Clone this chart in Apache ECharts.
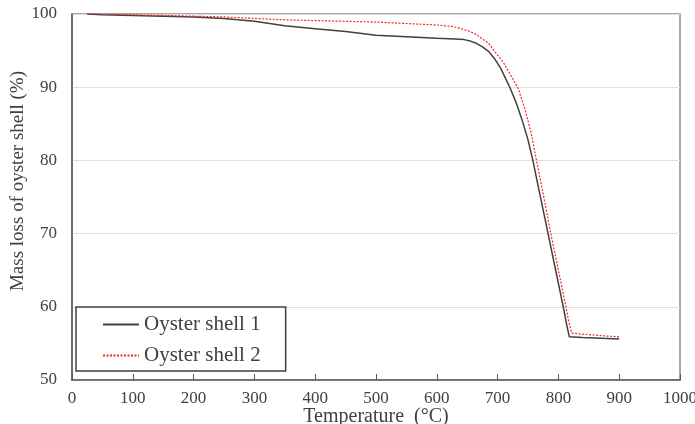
<!DOCTYPE html>
<html>
<head>
<meta charset="utf-8">
<script src="https://cdn.jsdelivr.net/npm/echarts@6/dist/echarts.min.js"></script>
<style>
  body { margin: 0; background: #fff; }
  #container { width: 695px; height: 424px; }
</style>
</head>
<body>
<div id="container"></div>
<script>
// Oyster shell 1 (black solid)
var temp1 = [25, 50, 100, 150, 200, 250, 300, 350, 400, 450, 500, 550, 600, 630, 645, 655, 665, 675, 685, 695, 705, 720, 730, 740, 750, 758, 770, 783, 795, 808, 814, 818, 840, 870, 900];
var mass1 = [100, 99.9, 99.8, 99.7, 99.6, 99.4, 99.0, 98.4, 98.0, 97.6, 97.1, 96.9, 96.7, 96.6, 96.5, 96.3, 96.0, 95.5, 94.9, 93.9, 92.6, 90.0, 88.0, 85.6, 82.8, 80.0, 75.2, 70.0, 65.2, 60.0, 57.4, 55.9, 55.8, 55.7, 55.6];
// Oyster shell 2 (red dotted)
var temp2 = [25, 50, 100, 150, 200, 250, 300, 350, 400, 450, 500, 550, 600, 625, 640, 655, 665, 675, 685, 698, 710, 720, 734, 745, 755, 764, 775, 787, 800, 812, 817, 822, 850, 880, 900];
var mass2 = [100, 100, 99.9, 99.8, 99.7, 99.6, 99.4, 99.2, 99.1, 99.0, 98.9, 98.7, 98.5, 98.3, 98.0, 97.6, 97.2, 96.6, 96.0, 94.6, 93.3, 91.9, 89.8, 87.0, 83.8, 80.0, 75.4, 70.2, 65.0, 60.2, 58.0, 56.4, 56.2, 56.0, 55.9];
var seriesNames = ['Oyster shell 1', 'Oyster shell 2'];
var xTitle = 'Temperature  (\u00B0C)';
var yTitle = 'Mass loss of oyster shell (%)';

var serif = "'Liberation Serif', 'Times New Roman', serif";

function pairs(xs, ys){
    var out = [];
    for(var i = 0; i < xs.length; i++){
        out.push([xs[i], ys[i]]);
    }
    return out;
}

var dom = document.getElementById("container");
var myChart = echarts.init(dom);
var option = {
    animation: false,
    backgroundColor: '#fff',
    grid: {
        left: 72, right: 15, top: 14, bottom: 44,
        outerBoundsMode: 'none',
        containLabel: false,
        show: true,
        borderColor: '#8a8a8a',
        borderWidth: 1.5
    },
    legend: {
        orient: 'vertical',
        left: 76,
        top: 307,
        padding: [7, 25, 5, 26],
        itemWidth: 36,
        itemHeight: 14,
        itemGap: 10,
        itemStyle: { opacity: 0 },
        backgroundColor: '#fff',
        borderColor: '#404040',
        borderWidth: 1.5,
        textStyle: { fontFamily: serif, fontSize: 21, color: '#404040' },
        data: seriesNames
    },
    xAxis: {
        type: 'value',
        min: 0, max: 1000, interval: 100,
        axisLine: { lineStyle: { color: '#595959', width: 1.5 } },
        axisTick: { show: true, inside: true, length: 6, lineStyle: { color: '#595959' } },
        axisLabel: {
            margin: 10, fontFamily: serif, fontSize: 17, color: '#404040',
            formatter: function(v){ return String(v); }
        },
        splitLine: { show: false }
    },
    yAxis: {
        type: 'value',
        min: 50, max: 100, interval: 10,
        axisLine: { show: true, lineStyle: { color: '#595959', width: 1.5 } },
        axisTick: { show: false },
        axisLabel: { margin: 15, fontFamily: serif, fontSize: 17, color: '#404040' },
        splitLine: { lineStyle: { color: '#e0e0e0', width: 1 } }
    },
    graphic: [
        {
            type: 'text',
            x: 376, y: 417,
            style: { text: xTitle, font: '20px ' + serif, fill: '#404040', textAlign: 'center', textVerticalAlign: 'middle' }
        },
        {
            type: 'text',
            x: 18, y: 181,
            rotation: Math.PI / 2,
            style: { text: yTitle, font: '19px ' + serif, fill: '#404040', textAlign: 'center', textVerticalAlign: 'middle' }
        }
    ],
    series: [
        {
            name: seriesNames[0],
            type: 'line',
            symbol: 'none',
            lineStyle: { color: '#404040', width: 1.5 },
            itemStyle: { color: '#404040' },
            data: pairs(temp1, mass1)
        },
        {
            name: seriesNames[1],
            type: 'line',
            symbol: 'none',
            lineStyle: { color: '#f02828', width: 1.2, type: [2, 1.5] },
            itemStyle: { color: '#f02828' },
            data: pairs(temp2, mass2)
        }
    ]
};
myChart.setOption(option, true);
</script>
</body>
</html>
